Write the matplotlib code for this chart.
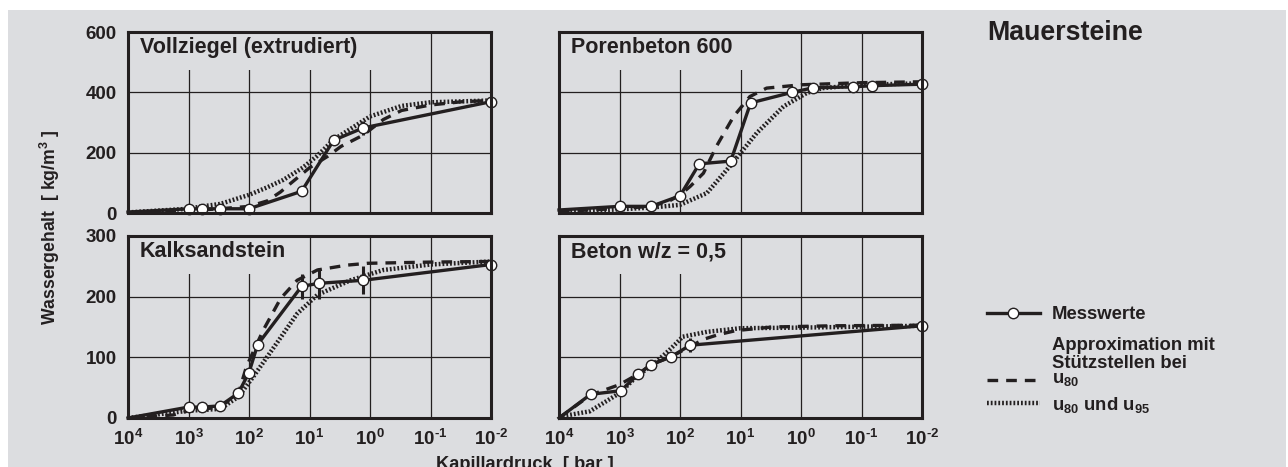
import numpy as np
import matplotlib
matplotlib.use("Agg")
import matplotlib.pyplot as plt
from matplotlib.lines import Line2D
from matplotlib.patches import Rectangle

plt.rcParams["font.family"] = ["Liberation Sans", "DejaVu Sans"]
plt.rcParams["font.weight"] = "bold"
plt.rcParams["mathtext.fontset"] = "custom"
plt.rcParams["mathtext.rm"] = "Liberation Sans:bold"
plt.rcParams["mathtext.it"] = "Liberation Sans:bold"
plt.rcParams["mathtext.bf"] = "Liberation Sans:bold"
plt.rcParams["mathtext.default"] = "rm"

INK = "#231f20"
BG = "#dcdde0"

# capillary pressure [bar] / water content [kg/m3]
voll_p = [1e4, 1e3, 600, 300, 100, 13.5, 4, 1.3, 0.01]
voll_w = [3, 14, 14, 14, 14, 72, 241, 282, 369]
voll_err = [0, 0, 0, 0, 0, 0, 0, 22, 0]
voll_u80_p = [1e4, 1e3, 300, 100, 50, 30, 20, 10, 5, 3, 1.3, 0.6, 0.3, 0.1, 0.03, 0.01]
voll_u80_w = [2, 8, 14, 22, 40, 70, 100, 150, 188, 221, 258, 310, 340, 358, 369, 373]
voll_u95_p = [1e4, 1e3, 600, 300, 180, 100, 50, 27, 13, 7.6, 4, 1, 0.3, 0.1, 0.01]
voll_u95_w = [2, 14, 22, 30, 44, 60, 85, 110, 150, 188, 243, 320, 355, 367, 373]

pore_p = [1e4, 1e3, 300, 100, 48, 14.5, 6.8, 1.4, 0.63, 0.14, 0.068, 0.01]
pore_w = [10, 22, 22, 57, 163, 172, 365, 400, 415, 418, 422, 427]
pore_err = [0] * 12
pore_u80_p = [1e4, 1e3, 300, 150, 100, 68, 41, 25, 13, 7, 3.7, 1, 0.1, 0.01]
pore_u80_w = [5, 15, 22, 40, 60, 88, 132, 221, 320, 386, 414, 425, 432, 435]
pore_u95_p = [1e4, 1e3, 300, 100, 36, 15, 5.4, 1.95, 0.8, 0.44, 0.1, 0.01]
pore_u95_w = [3, 12, 18, 27, 66, 155, 265, 353, 398, 414, 425, 430]

kalk_p = [1e4, 1e3, 600, 300, 150, 100, 72, 13.5, 7, 1.3, 0.01]
kalk_w = [0, 18, 18, 20, 41, 75, 121, 217, 222, 227, 253]
kalk_err = [0, 0, 0, 0, 0, 0, 0, 21, 26, 23, 0]
kalk_u80_p = [1e4, 1.8e3, 1e3, 300, 150, 110, 58, 30, 16, 7.4, 2.4, 1.1, 0.1, 0.01]
kalk_u80_w = [0, 5, 12, 18, 40, 85, 145, 197, 227, 244, 252, 255, 257, 258]
kalk_u95_p = [1e4, 1e3, 300, 150, 85, 35, 16, 7.4, 2.1, 0.6, 0.1, 0.01]
kalk_u95_w = [0, 12, 15, 35, 68, 123, 172, 203, 227, 244, 253, 258]

beton_p = [1e4, 3000, 950, 490, 300, 140, 68, 0.01]
beton_w = [0, 39, 45, 72, 88, 101, 120, 152]
beton_err = [0, 0, 0, 0, 0, 0, 12, 0]
beton_u80_p = [1e4, 3000, 1000, 500, 300, 140, 68, 40, 24, 12, 3, 0.3, 0.01]
beton_u80_w = [0, 38, 55, 72, 88, 101, 118, 130, 137, 144, 150, 152, 153]
beton_u95_p = [1e4, 3100, 1000, 500, 280, 150, 90, 36, 10, 1, 0.01]
beton_u95_w = [2, 11, 41, 70, 88, 112, 134, 142, 148, 149, 152]

x_ticks = [1e4, 1e3, 1e2, 1e1, 1e0, 1e-1, 1e-2]
x_labels = [r"$10^{4}$", r"$10^{3}$", r"$10^{2}$", r"$10^{1}$",
            r"$10^{0}$", r"$10^{\text{-}1}$", r"$10^{\text{-}2}$"]

panels = [
    # title, data, ylim, yticks, axes rect (fig px: left, top, width, height), title box width
    ("Vollziegel (extrudiert)", (voll_p, voll_w, voll_err, voll_u80_p, voll_u80_w, voll_u95_p, voll_u95_w),
     600, [0, 200, 400, 600], (128, 32, 363, 181), 0.68, True, False),
    ("Porenbeton 600", (pore_p, pore_w, pore_err, pore_u80_p, pore_u80_w, pore_u95_p, pore_u95_w),
     600, [0, 200, 400, 600], (559, 32, 363, 181), 0.51, False, False),
    ("Kalksandstein", (kalk_p, kalk_w, kalk_err, kalk_u80_p, kalk_u80_w, kalk_u95_p, kalk_u95_w),
     300, [0, 100, 200, 300], (128, 236, 363, 182), 0.45, True, True),
    ("Beton w/z = 0,5", (beton_p, beton_w, beton_err, beton_u80_p, beton_u80_w, beton_u95_p, beton_u95_w),
     300, [0, 100, 200, 300], (559, 236, 363, 182), 0.485, False, True),
]

W, H = 1288, 467
fig = plt.figure(figsize=(W / 100, H / 100), dpi=100)
fig.patches.append(Rectangle((8 / W, 0), 1278 / W, (H - 10) / H, transform=fig.transFigure,
                             facecolor=BG, edgecolor="none", zorder=-10))

meas_style = dict(color=INK, lw=2.4, marker="o", ms=7.5, mfc="white", mec=INK, mew=1.0)
u80_style = dict(color=INK, lw=2.4, dashes=(3.2, 2.4), dash_capstyle="butt")
u95_style = dict(color=INK, lw=3.2, dashes=(0.4, 0.45), dash_capstyle="butt")

for title, data, ymax, yticks, (l, t, w, h), boxw, ylab, xlab in panels:
    p, wv, err, p80, w80, p95, w95 = data
    ax = fig.add_axes([l / W, 1 - (t + h) / H, w / W, h / H])
    ax.set_facecolor(BG)
    ax.set_xscale("log")
    ax.set_xlim(1e4, 1e-2)
    ax.set_ylim(0, ymax)
    ax.set_axisbelow(True)
    ax.set_xticks(x_ticks)
    ax.set_xticks([], minor=True)
    ax.set_yticks(yticks)
    ax.set_xticklabels(x_labels if xlab else [])
    ax.set_yticklabels([str(v) for v in yticks] if ylab else [])
    ax.tick_params(length=0, labelsize=13.5, colors=INK, pad=8)
    ax.grid(True, color=INK, lw=0.9)
    for s in ax.spines.values():
        s.set_linewidth(2.2)
        s.set_color(INK)
    # keep the grid clear behind the panel title
    ax.add_patch(Rectangle((0, 0.79), boxw, 0.21, transform=ax.transAxes,
                           facecolor=BG, edgecolor="none", zorder=1))
    ax.text(0.033, 0.97, title, transform=ax.transAxes, va="top", ha="left",
            fontsize=15.5, color=INK, zorder=3)

    ax.plot(p95, w95, zorder=2, **u95_style)
    ax.plot(p80, w80, zorder=2.1, **u80_style)
    ax.errorbar(p, wv, yerr=err, fmt="none", ecolor=INK, elinewidth=2.2, capsize=0, zorder=2.2)
    ax.plot(p, wv, markevery=list(range(1, len(p))), zorder=2.3, clip_on=False, **meas_style)

fig.text(50 / W, 1 - 227 / H, "Wassergehalt  [ kg/m$^{3}$ ]", rotation=90, ha="center",
         va="center", fontsize=12.7, color=INK)
fig.text(525 / W, 1 - 456 / H, "Kapillardruck  [ bar ]", ha="center", va="top",
         fontsize=13.2, color=INK)
fig.text(987 / W, 1 - 20 / H, "Mauersteine", ha="left", va="top", fontsize=19.3, color=INK)

# legend, drawn by hand so the rows sit where the original puts them
key_x = [987 / W, 1040 / W]
text_x = 1052 / W
fig.add_artist(Line2D(key_x, [1 - 313 / H] * 2, transform=fig.transFigure,
                      markevery=[], **meas_style))
fig.add_artist(Line2D([1013 / W], [1 - 313 / H], transform=fig.transFigure,
                      **{**meas_style, "lw": 0}))
fig.add_artist(Line2D(key_x, [1 - 380 / H] * 2, transform=fig.transFigure, **u80_style))
fig.add_artist(Line2D(key_x, [1 - 403 / H] * 2, transform=fig.transFigure, **u95_style))
legend_rows = [("Messwerte", 319), ("Approximation mit", 350), ("Stützstellen bei", 368),
               ("u$_{80}$", 383), ("u$_{80}$ und u$_{95}$", 410)]
for txt, base in legend_rows:
    fig.text(text_x, 1 - base / H, txt, ha="left", va="baseline", fontsize=13.3, color=INK)

fig.savefig("out.png", dpi=100)
